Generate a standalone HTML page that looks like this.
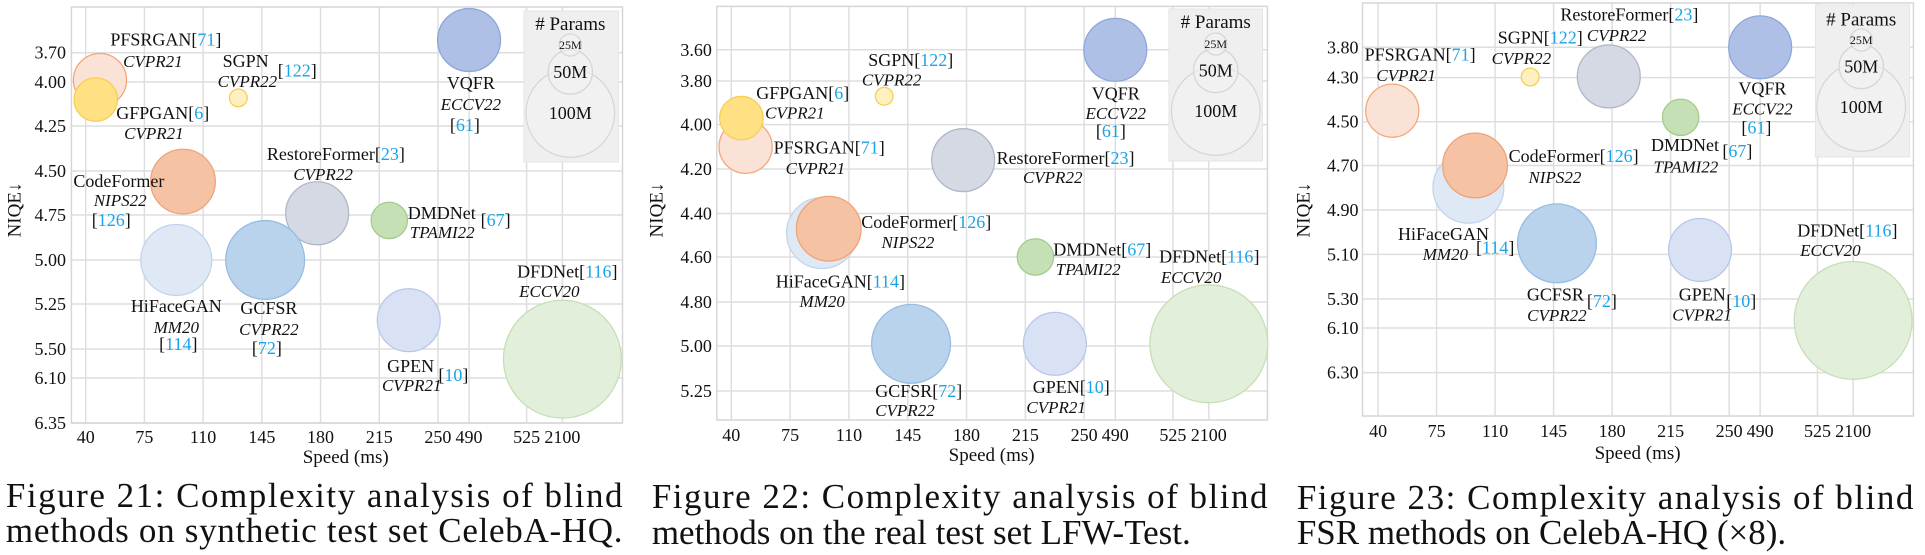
<!DOCTYPE html>
<html><head><meta charset="utf-8">
<style>
html,body{margin:0;padding:0;background:#fff;}
svg{display:block;font-family:"Liberation Serif",serif;}
</style></head>
<body>
<svg id="fig" width="1925" height="555" viewBox="0 0 1925 555" xmlns="http://www.w3.org/2000/svg"></svg>
<script>
// ---- shared data ----
const methods = ['DFDNet','HiFaceGAN','PFSRGAN','GFPGAN','SGPN','VQFR','CodeFormer','RestoreFormer','DMDNet','GCFSR','GPEN'];
const speeds  = [2100, 94, 48.5, 46, 131, 490, 98, 178, 221, 147, 232.6];
const params  = [133, 80, 60, 49, 20, 71, 73, 71, 41, 89, 71];
const xTickLabels = ['40','75','110','145','180','215','250','490','525','2100'];
const xTickVals = [40,75,110,145,180,215,250,490,525,2100];
// ---- per-figure NIQE values (same order as methods; null = not shown) ----
const niqe21 = [5.71, 5.00, 3.98, 4.10, 4.09, 3.57, 4.56, 4.74, 4.78, 5.00, 5.34];
const niqe22 = [4.99, 4.49, 4.10, 3.97, 3.87, 3.60, 4.47, 4.16, 4.60, 4.99, 4.99];
const niqe23 = [5.89, 4.80, 4.45, null, 4.29, 3.80, 4.70, 4.28, 4.48, 5.05, 5.08];
const yTicks21 = [3.70,4.00,4.25,4.50,4.75,5.00,5.25,5.50,6.10,6.35];
const yTicks22 = [3.60,3.80,4.00,4.20,4.40,4.60,4.80,5.00,5.25];
const yTicks23 = [3.80,4.30,4.50,4.70,4.90,5.10,5.30,6.10,6.30];
const legendSizes = [25,50,100];
const legendLabels = ['25M','50M','100M'];

const colors = {
 DFDNet:['#e2efda','#c6dfb5'], HiFaceGAN:['#dfe9f5','#c2d5ea'], PFSRGAN:['#fae3d6','#f2a77c'],
 GFPGAN:['#ffe083','#f7cf55'], SGPN:['#fff0c2','#f7cf55'], VQFR:['#aec0e6','#8ea6dc'],
 CodeFormer:['#f5c3a3','#eea37a'], RestoreFormer:['#d4d9e3','#b0b8c8'], DMDNet:['#c5e0b5','#a3cc8c'],
 GCFSR:['#b9d3ed','#98bce2'], GPEN:['#d9e2f4','#b7c6ea']
};
const NS='http://www.w3.org/2000/svg';
const svg=document.getElementById('fig');
function mk(tag,attrs,parent){const e=document.createElementNS(NS,tag);for(const k in attrs)e.setAttribute(k,attrs[k]);(parent||svg).appendChild(e);return e;}

function drawChart(cfg, niqe, yTicks){
  const K=0.985, off=cfg.off;
  const fx=x=>off+(x-off)*K;
  const g=mk('g',{});
  
  
  const xUnits=[0,1,2,3,4,5,6,6.53,7.51,8.12];
  const x0=fx(cfg.x0), step=cfg.step*K;
  function xs(v){
    for(let i=0;i<xTickVals.length-1;i++){
      if(v<=xTickVals[i+1]||i===xTickVals.length-2){
        const t=(v-xTickVals[i])/(xTickVals[i+1]-xTickVals[i]);
        return x0+(xUnits[i]+t*(xUnits[i+1]-xUnits[i]))*step;
      }
    }
  }
  const yp=cfg.yPx;
  function ys(v){
    let i=0;
    if(v<yTicks[0]) i=0;
    else { for(i=0;i<yTicks.length-2;i++){ if(v<=yTicks[i+1]) break; } }
    const t=(v-yTicks[i])/(yTicks[i+1]-yTicks[i]);
    return yp[i]+t*(yp[i+1]-yp[i]);
  }
  const L=fx(cfg.frame[0]),T=cfg.frame[1],R=fx(cfg.frame[2]),B=cfg.frame[3];
  xTickVals.forEach((v,i)=>{
    const l=mk('line',{x1:xs(v),x2:xs(v),y1:T,y2:B,stroke:'#dedede','stroke-width':1.5},g);
    
    
    const t=mk('text',{x:xs(v),y:cfg.xTickY,'font-size':18,'text-anchor':'middle',fill:'#111'},g);
    t.textContent=xTickLabels[i];
    
    
  });
  yTicks.forEach((v,i)=>{
    const l=mk('line',{x1:L,x2:R,y1:ys(v),y2:ys(v),stroke:'#dedede','stroke-width':1.5},g);
    
    
    const t=mk('text',{x:fx(cfg.yLabX),y:ys(v)+6,'font-size':18,'text-anchor':'end',fill:'#111'},g);
    t.textContent=v.toFixed(2);
    
    
  });
  const fr=mk('rect',{x:L,y:T,width:R-L,height:B-T,fill:'none',stroke:'#d6d6d6','stroke-width':1.5},g);
  
  
  const lg=cfg.legend;
  const lr=mk('rect',{x:fx(lg[0]),y:lg[1],width:(lg[2]-lg[0])*K,height:lg[3]-lg[1],fill:'#efefef',stroke:'#e6e6e6'},g);
  
  
  const lcx=fx(lg[4]);
  const lt=mk('text',{x:lcx,y:lg[5]+6,'font-size':19,'text-anchor':'middle',fill:'#111'},g);
  lt.textContent='# Params';
  
  
  const lcy=[lg[6],lg[7],lg[8]];
  [2,1,0].forEach(i=>{
    const c=mk('circle',{cx:lcx,cy:lcy[i],r:0.443*legendSizes[i],fill:'#f2f2f2','fill-opacity':0.6,stroke:'#d5d5d5','stroke-width':1.2},g);
    
    
  });
  legendLabels.forEach((s,i)=>{
    const t=mk('text',{x:lcx,y:lcy[i]+(i===0?4:6),'font-size':i===0?12:18,'text-anchor':'middle',fill:'#111'},g);
    t.textContent=s;
    
    
  });
  methods.forEach((m,i)=>{
    if(niqe[i]===null||niqe[i]===undefined) return;
    const c=mk('circle',{cx:xs(speeds[i]),cy:ys(niqe[i]),r:0.443*params[i],fill:colors[m][0],stroke:colors[m][1],'stroke-width':1.3},g);
    
    
  });
  cfg.labels.forEach(a=>{
    const [s,x,y,anc,it]=a;
    const t=mk('text',{x:fx(x),y:y,'font-size':it?17:18,'text-anchor':anc||'start',fill:'#111','font-style':it?'italic':'normal'},g);
    
    
    const parts=s.split(/(\d+(?=\]))/);
    parts.forEach(p=>{
      if(!p)return;
      const ts=mk('tspan',{},t);
      if(/^\d+$/.test(p)&&s.indexOf('['+p+']')>=0) ts.setAttribute('fill','#1aa3e8');
      ts.textContent=p;
    });
  });
  const xt=mk('text',{x:fx(cfg.xTitle[0]),y:cfg.xTitle[1],'font-size':19,'text-anchor':'middle',fill:'#111'},g);
  xt.textContent='Speed (ms)';
  
  
  const yx=fx(cfg.yTitle[0]), yy=cfg.yTitle[1];
  const yt=mk('text',{x:yx,y:yy,'font-size':19,'text-anchor':'middle',fill:'#111',transform:'rotate(-90 '+yx+' '+yy+')'},g);
  yt.textContent='NIQE↓';
  
  
  cfg.caption.forEach((c,i)=>{
    const attrs={x:fx(c[1]),y:c[2],'font-size':35,fill:'#111'};
    if(c[3]){attrs.textLength=(c[3]-c[1])*K;attrs.lengthAdjust='spacing';}
    const t=mk('text',attrs,g);
    t.textContent=c[0];
    
    
  });
}

drawChart({name:'chart-figure-21',off:0,x0:87,step:59.6,frame:[72.5,7,632,423],
  yPx:[52.7,82,126,171,215,260,304,349,378,423],yLabX:67,xTickY:443,
  legend:[532,11,628,162,579,24,45,72,113],
  xTitle:[351,463],yTitle:[21,210],
  caption:[['Figure 21: Complexity analysis of blind',6,507,632],['methods on synthetic test set CelebA-HQ.',6,542,632]],
  labels:[['PFSRGAN[71]',112,45.5],['CVPR21',125,67,'start',1],
   ['SGPN',226,67],['[122]',282,76.5],['CVPR22',221,87,'start',1],
   ['GFPGAN[6]',118,119],['CVPR21',126,139,'start',1],
   ['VQFR',478,89,'middle'],['ECCV22',478,110,'middle',1],['[61]',472,131,'middle'],
   ['CodeFormer',74.5,187],['NIPS22',122,206,'middle',1],['[126]',113,226,'middle'],
   ['RestoreFormer[23]',271,160],['CVPR22',328,180,'middle',1],
   ['DMDNet',414,219],['[67]',488,226],['TPAMI22',449,238,'middle',1],
   ['HiFaceGAN',179,312,'middle'],['MM20',179,333,'middle',1],['[114]',181,350,'middle'],
   ['GCFSR',273,314,'middle'],['CVPR22',273,335,'middle',1],['[72]',271,354,'middle'],
   ['GPEN',393,372],['[10]',445,381],['CVPR21',418,391,'middle',1],
   ['DFDNet[116]',525,277.5],['ECCV20',527,297,'start',1]]
}, niqe21, yTicks21);

drawChart({name:'chart-figure-22',off:640,x0:732.7,step:59.7,frame:[718,6.4,1277,420],
  yPx:[49.8,81,124.6,169,213.5,257,302,346,391],yLabX:713,xTickY:441,
  legend:[1177,9,1272,161,1224.5,22,44,70.5,111],
  xTitle:[997,461],yTitle:[663,210],
  caption:[['Figure 22: Complexity analysis of blind',652,508,1277],['methods on the real test set LFW-Test.',652,544]],
  labels:[['SGPN[122]',871.7,66],['CVPR22',895.5,85.4,'middle',1],
   ['GFPGAN[6]',758,99],['CVPR21',767,118.5,'start',1],
   ['VQFR',1123,99.6,'middle'],['ECCV22',1123,119,'middle',1],['[61]',1118,137,'middle'],
   ['PFSRGAN[71]',775.7,153.7],['CVPR21',818,174,'middle',1],
   ['RestoreFormer[23]',1002,164],['CVPR22',1059,183,'middle',1],
   ['CodeFormer[126]',864.6,227.8],['NIPS22',912,248,'middle',1],
   ['HiFaceGAN[114]',777.8,287.5],['MM20',825,307,'middle',1],
   ['DMDNet[67]',1059.6,255.5],['TPAMI22',1095,275,'middle',1],
   ['DFDNet[116]',1167,262.6],['ECCV20',1199.5,283,'middle',1],
   ['GCFSR[72]',878.8,396.8],['CVPR22',909,416,'middle',1],
   ['GPEN[10]',1038.7,393],['CVPR21',1062.5,413,'middle',1]]
}, niqe22, yTicks22);

drawChart({name:'chart-figure-23',off:1285,x0:1379.5,step:59.4,frame:[1363.7,3,1923,416],
  yPx:[47.3,77.6,121.7,165.5,210,254.4,299,328,372.6],yLabX:1359.6,xTickY:437,
  legend:[1823.5,5,1919,157,1870,19.6,40,66.5,107],
  xTitle:[1643,459],yTitle:[1310,210],
  caption:[['Figure 23: Complexity analysis of blind',1297,509,1923],['FSR methods on CelebA-HQ (×8).',1297,544]],
  labels:[['RestoreFormer[23]',1564.6,20.6],['CVPR22',1591.5,41,'start',1],
   ['SGPN[122]',1501,43.4],['CVPR22',1525,64,'middle',1],
   ['PFSRGAN[71]',1365.8,60.5],['CVPR21',1408,81,'middle',1],
   ['VQFR',1769.7,94.3,'middle'],['ECCV22',1769.7,114.6,'middle',1],['[61]',1763.5,133.5,'middle'],
   ['DMDNet',1656.6,151],['[67]',1729,157],['TPAMI22',1692,172.6,'middle',1],
   ['CodeFormer[126]',1512,162],['NIPS22',1559,183,'middle',1],
   ['HiFaceGAN',1399.7,240],['MM20',1447.8,260,'middle',1],['[114]',1478.9,253.7],
   ['DFDNet[116]',1805,236.7],['ECCV20',1808,256,'start',1],
   ['GCFSR',1530.6,300.7],['[72]',1591.5,306.8],['CVPR22',1561,321,'middle',1],
   ['GPEN',1684.7,300.7],['[10]',1733,306.8],['CVPR21',1708.4,320.3,'middle',1]]
}, niqe23, yTicks23);
</script>
</body></html>
